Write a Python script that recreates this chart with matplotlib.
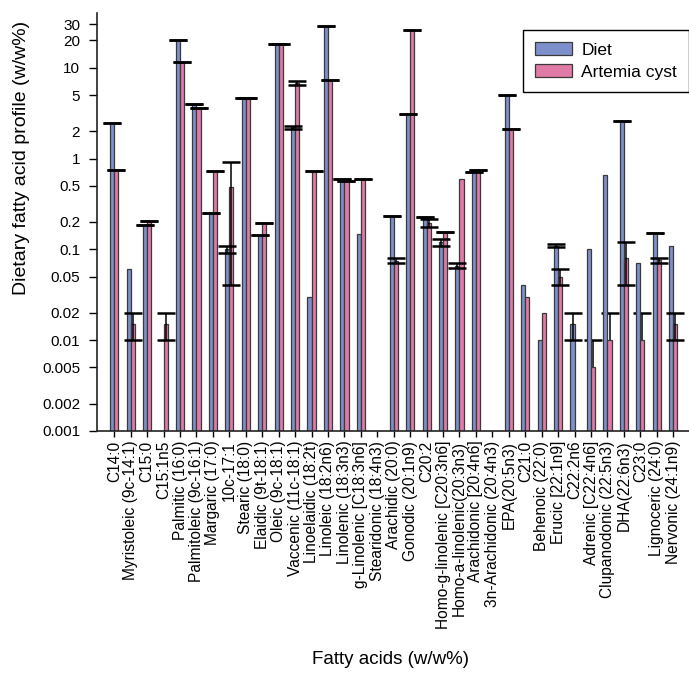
import numpy as np
import matplotlib
matplotlib.use("Agg")
import matplotlib.pyplot as plt

plt.rcParams['font.family'] = ['Liberation Sans', 'DejaVu Sans']

categories = [
    "C14:0", "Myristoleic (9c-14:1)", "C15:0", "C15:1n5", "Palmitic (16:0)",
    "Palmitoleic (9c-16:1)", "Margaric (17:0)", "10c-17:1", "Stearic (18:0)",
    "Elaidic (9t-18:1)", "Oleic (9c-18:1)", "Vaccenic (11c-18:1)",
    "Linoelaidic (18:2t)", "Linoleic (18:2n6)", "Linolenic (18:3n3)",
    "g-Linolenic [C18:3n6]", "Stearidonic (18:4n3)", "Arachidic (20:0)",
    "Gonodic (20:1n9)", "C20:2", "Homo-g-linolenic [C20:3n6]",
    "Homo-a-linolenic(20:3n3)", "Arachidonic [20:4n6]", "3n-Arachidonic (20:4n3)",
    "EPA(20:5n3)", "C21:0", "Behenoic (22:0)", "Erucic [22:1n9]", "C22:2n6",
    "Adrenic [C22:4n6]", "Clupanodonic (22:5n3)", "DHA(22:6n3)", "C23:0",
    "Lignoceric (24:0)", "Nervonic (24:1n9)",
]
nan = np.nan
diet = [2.45, 0.06, 0.185, nan, 20.0, 4.0, 0.25, 0.1, 4.6, 0.145, 18.3, 2.2,
        0.03, 29.0, 0.6, 0.147, nan, 0.235, 3.1, 0.225, 0.12, 0.066, 0.71, nan,
        5.0, 0.04, 0.01, 0.11, 0.015, 0.1, 0.65, 2.6, 0.07, 0.15, 0.11]
diet_sd = [0, nan, 0, nan, 0, 0, 0, 0.01, 0, 0, 0, 0.1,
           nan, 0, 0, nan, nan, 0, 0, 0, 0.01, 0.004, 0, nan,
           0, nan, nan, 0.005, 0.005, nan, nan, 0, nan, 0, nan]
artemia = [0.75, 0.015, 0.205, 0.015, 11.5, 3.6, 0.72, 0.48, 4.6, 0.195, 18.3, 6.8,
           0.72, 7.4, 0.57, 0.6, nan, 0.075, 26.0, 0.195, 0.155, 0.6, 0.74, nan,
           2.1, 0.03, 0.02, 0.05, nan, 0.005, 0.01, 0.08, 0.01, 0.076, 0.015]
artemia_sd = [0, 0.005, 0, 0.005, 0, 0, 0, 0.44, 0, 0, 0, 0.35,
              0, 0, 0, 0, nan, 0.005, 0, 0.02, 0, nan, 0, nan,
              0, nan, nan, 0.01, nan, 0.005, 0.01, 0.04, 0.01, 0.005, 0.005]
yticks = [0.001, 0.002, 0.005, 0.01, 0.02, 0.05, 0.1, 0.2, 0.5, 1, 2, 5, 10, 20, 30]
ytick_labels = ["0.001", "0.002", "0.005", "0.01", "0.02", "0.05", "0.1", "0.2",
                "0.5", "1", "2", "5", "10", "20", "30"]

blue = "#7d90cb"
pink = "#e07aa6"

fig = plt.figure(figsize=(6.89, 6.77), dpi=100)
ax = fig.add_axes([0.1403, 0.3634, 0.8597, 0.6174])

x = np.arange(len(categories))
w = 0.25
d = np.array(diet, dtype=float)
a = np.array(artemia, dtype=float)
ax.bar(x - w / 2, d, width=w, color=blue, edgecolor="#3a3a3a", linewidth=0.9,
       label="Diet", zorder=2)
ax.bar(x + w / 2, a, width=w, color=pink, edgecolor="#3a3a3a", linewidth=0.9,
       label="Artemia cyst", zorder=2)


def draw_err(xpos, vals, sds):
    vals = np.asarray(vals, float)
    sds = np.asarray(sds, float)
    ok = ~np.isnan(vals) & ~np.isnan(sds)
    pos = ok & (vals - np.nan_to_num(sds) > 0)
    neg = ok & ~pos
    if pos.any():
        ax.errorbar(xpos[pos], vals[pos], yerr=[sds[pos], sds[pos]], fmt="none",
                    ecolor="black", elinewidth=1.1, capsize=6.3, capthick=1.8,
                    zorder=3)
    if neg.any():
        # lower limit falls below zero: only the upper half is visible
        v = vals[neg]
        ax.errorbar(xpos[neg], v, yerr=[v * 0.99999, sds[neg]], fmt="none",
                    ecolor="black", elinewidth=1.1, capsize=6.3, capthick=1.8,
                    zorder=1.5)


draw_err(x - w / 2, diet, diet_sd)
draw_err(x + w / 2, artemia, artemia_sd)

ax.set_yscale("log")
ax.set_ylim(0.001, 40)
ax.set_xlim(-1.07, 34.96)
ax.set_yticks(yticks)
ax.set_yticklabels(ytick_labels, fontsize=11)
ax.minorticks_off()
ax.set_xticks(x)
ax.set_xticklabels(categories, rotation=90, fontsize=11.2)
ax.tick_params(axis="y", direction="out", length=6, width=1, pad=6)
ax.tick_params(axis="x", direction="out", length=4, width=1, pad=3)
for s in ["top", "right"]:
    ax.spines[s].set_visible(False)
for s in ["left", "bottom"]:
    ax.spines[s].set_linewidth(1.2)
    ax.spines[s].set_color("#222222")

leg = ax.legend(loc="upper left", bbox_to_anchor=(0.7197, 0.959), borderaxespad=0,
                fontsize=12.5, handlelength=2.1, handleheight=0.72,
                handletextpad=0.55, labelspacing=0.4, borderpad=0.7,
                fancybox=False, framealpha=1, edgecolor="black")
leg.get_frame().set_linewidth(1.0)

fig.text(22 / 689, 1 - 158 / 677, "Dietary fatty acid profile (w/w%)",
         rotation=90, ha="center", va="center", fontsize=14)
fig.text(391 / 689, 1 - 660 / 677, "Fatty acids (w/w%)", ha="center",
         va="center", fontsize=13.5)

fig.savefig("out.png", dpi=100)
